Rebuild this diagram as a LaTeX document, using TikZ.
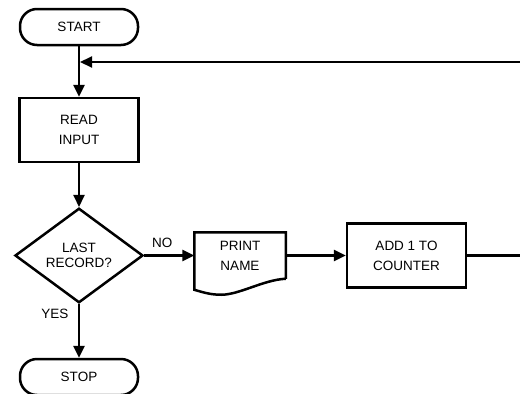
\documentclass[tikz,border=0pt]{standalone}
\usepackage{fontspec}
\setmainfont{Liberation Sans}
\usetikzlibrary{arrows.meta, shapes.geometric, positioning}

\begin{document}
\begin{tikzpicture}[->,>={Triangle[length=12pt,width=11pt]},line width=2.5pt,
 font=\fontsize{13.5}{20}\selectfont,
 term/.style={rectangle,rounded corners=17pt,draw,minimum width=118pt,minimum height=36pt},
 proc/.style={rectangle,draw,align=center,minimum width=119pt,minimum height=64pt},
 test/.style={diamond,draw,align=center,minimum width=128pt,minimum height=85pt,
   inner sep=1pt,font=\fontsize{13.5}{15}\selectfont},
 doc/.style={rectangle,align=center,minimum width=89pt,minimum height=44pt}]

  \useasboundingbox (0,0) rectangle (520pt,-394pt);

  \node[term] (start) at (79pt,-27pt) {START};
  \node[proc] (read) [node distance=103pt, below of=start] {READ\\INPUT};
  \node[test] (last) [node distance=125.5pt, below of=read] {LAST\\RECORD?};
  \node[term] (stop) [node distance=121.5pt, below of=last] {STOP};
  \node[doc] (print) [node distance=161pt, right of=last] {PRINT\\NAME};
  \node[proc] (add) [node distance=166.5pt, right of=print] {ADD 1 TO\\COUNTER};

  % document outline with wavy bottom
  \path[draw,-] (print.south east) -- (print.north east) -- (print.north west)
    -- ([yshift=-11pt]print.south west)
    .. controls +(10pt,-3pt) and +(-10pt,0pt) .. ([xshift=27pt,yshift=-16pt]print.south west)
    .. controls +(18pt,0pt) and +(-22pt,-1pt) .. (print.south east);

  \coordinate (join) at ([xshift=1pt,yshift=-35pt]start.center);
  \coordinate (back) at (520pt,-62pt);
  \coordinate (out) at (add -| back);

  \path[draw] (start) -- (read);
  \path[draw,line width=2pt] (back) -- (join);
  \path[draw] (read) -- (last);
  \path[draw] (last) -- node[pos=0.36,above=3pt] {NO} (print);
  \path[draw] (last) -- node[pos=0.19,left=6pt] {YES} (stop);
  \path[draw] (print) -- (add);
  \path[draw,-] (add) -- (out);
\end{tikzpicture}
\end{document}
